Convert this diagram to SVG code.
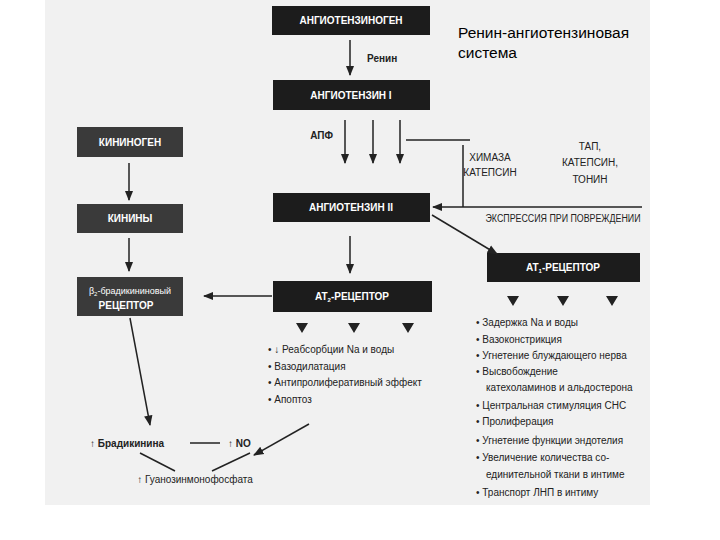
<svg xmlns="http://www.w3.org/2000/svg" width="720" height="540" viewBox="0 0 720 540">
<defs>
<marker id="ah" viewBox="0 0 10 10" refX="9" refY="5" markerWidth="7" markerHeight="7" orient="auto-start-reverse"><path d="M0,1 L10,5 L0,9 Z" fill="#222"/></marker>
<style>
.bx{fill:#1c1c1c}
.bg{fill:#3a3a3a}
.bt{fill:#fff;font-family:"Liberation Sans",Arial,sans-serif;font-weight:bold;font-size:10px;text-anchor:middle}
.t{fill:#222;font-family:"Liberation Sans Narrow","Liberation Sans",Arial,sans-serif;font-size:10px}
.tb{fill:#222;font-family:"Liberation Sans",Arial,sans-serif;font-size:10px;font-weight:bold}
.ln{stroke:#222;stroke-width:1.5;fill:none}
.tri{fill:#222}
</style>
</defs>
<rect width="720" height="540" fill="#fff"/>
<rect x="45" y="0" width="605" height="505" fill="#f1f1f1"/>
<text x="458" y="38" font-family="Liberation Sans,Arial,sans-serif" font-size="15.5" fill="#000">Ренин-ангиотензиновая</text>
<text x="458" y="58" font-family="Liberation Sans,Arial,sans-serif" font-size="15.5" fill="#000">система</text>

<g id="angiotensinogen"><rect class="bx" x="272" y="6" width="158" height="29"/><text class="bt" x="351" y="24">АНГИОТЕНЗИНОГЕН</text></g>
<g id="angiotensin1"><rect class="bx" x="273" y="80" width="157" height="30"/><text class="bt" x="351" y="99">АНГИОТЕНЗИН I</text></g>
<g id="angiotensin2"><rect class="bx" x="273" y="193" width="157" height="29"/><text class="bt" x="351" y="211">АНГИОТЕНЗИН II</text></g>
<g id="at1"><rect class="bx" x="487" y="253" width="153" height="29"/><text class="bt" x="563" y="271">AT<tspan font-size="6" dy="2">1</tspan><tspan dy="-2">-РЕЦЕПТОР</tspan></text></g>
<g id="at2"><rect class="bx" x="273" y="281" width="159" height="31"/><text class="bt" x="352" y="300">AT<tspan font-size="6" dy="2">2</tspan><tspan dy="-2">-РЕЦЕПТОР</tspan></text></g>
<g id="kininogen"><rect class="bg" x="77" y="127" width="106" height="30"/><text class="bt" x="130" y="146">КИНИНОГЕН</text></g>
<g id="kininy"><rect class="bg" x="77" y="204" width="106" height="29"/><text class="bt" x="130" y="222">КИНИНЫ</text></g>
<g id="b2"><rect class="bg" x="77" y="277" width="106" height="39"/><text x="130" y="294" fill="#fff" font-family="Liberation Sans Narrow,Liberation Sans,Arial,sans-serif" font-size="9" text-anchor="middle">β<tspan font-size="6" dy="2">2</tspan><tspan dy="-2">-брадикининовый</tspan></text><text class="bt" x="126" y="309">РЕЦЕПТОР</text></g>

<g id="labels">
<text class="tb" x="367" y="62" font-size="9">Ренин</text>
<text class="tb" x="333" y="139" text-anchor="end">АПФ</text>
<text class="t" x="490" y="161" text-anchor="middle" font-size="9">ХИМАЗА</text>
<text class="t" x="490" y="176" text-anchor="middle" font-size="9">КАТЕПСИН</text>
<text class="t" x="590" y="150" text-anchor="middle" font-size="9">ТАП,</text>
<text class="t" x="590" y="166" text-anchor="middle" font-size="9">КАТЕПСИН,</text>
<text class="t" x="590" y="183" text-anchor="middle" font-size="9">ТОНИН</text>
<text class="t" x="563" y="222" text-anchor="middle" font-size="8.5" textLength="155" lengthAdjust="spacingAndGlyphs">ЭКСПРЕССИЯ ПРИ ПОВРЕЖДЕНИИ</text>
</g>

<g id="at1-effects" class="t">
<text x="476" y="326">• Задержка Na и воды</text>
<text x="476" y="343">• Вазоконстрикция</text>
<text x="476" y="359">• Угнетение блуждающего нерва</text>
<text x="476" y="375">• Высвобождение</text>
<text x="486" y="391">катехоламинов и альдостерона</text>
<text x="476" y="409">• Центральная стимуляция СНС</text>
<text x="476" y="425">• Пролиферация</text>
<text x="476" y="444">• Угнетение функции эндотелия</text>
<text x="476" y="461">• Увеличение количества со-</text>
<text x="486" y="478">единительной ткани в интиме</text>
<text x="476" y="496">• Транспорт ЛНП в интиму</text>
</g>
<g id="at2-effects" class="t">
<text x="268" y="353">• ↓ Реабсорбции Na и воды</text>
<text x="268" y="370">• Вазодилатация</text>
<text x="268" y="386">• Антипролиферативный эффект</text>
<text x="268" y="403">• Апоптоз</text>
</g>
<g id="bradykinin"><text class="tb" x="90" y="447" font-size="11">↑ Брадикинина</text></g>
<g id="no"><text class="tb" x="228" y="447" font-size="11">↑ NO</text></g>
<g id="cgmp"><text class="t" x="195" y="483" text-anchor="middle" font-size="8">↑ Гуанозинмонофосфата</text></g>

<g id="connectors">
<line class="ln" x1="350" y1="40" x2="350" y2="75" marker-end="url(#ah)"/>
<line class="ln" x1="345" y1="120" x2="345" y2="163" marker-end="url(#ah)"/>
<line class="ln" x1="373" y1="120" x2="373" y2="163" marker-end="url(#ah)"/>
<line class="ln" x1="400" y1="120" x2="400" y2="163" marker-end="url(#ah)"/>
<line class="ln" x1="406" y1="140" x2="470" y2="140" stroke-width="2"/>
<line class="ln" x1="463" y1="145" x2="463" y2="207" stroke-width="1"/>
<line class="ln" x1="642" y1="207" x2="433" y2="207" marker-end="url(#ah)"/>
<line class="ln" x1="432" y1="215" x2="497" y2="254" marker-end="url(#ah)"/>
<line class="ln" x1="350" y1="236" x2="350" y2="273" marker-end="url(#ah)"/>
<line class="ln" x1="272" y1="296" x2="204" y2="296" marker-end="url(#ah)"/>
<line class="ln" x1="129" y1="163" x2="129" y2="200" marker-end="url(#ah)"/>
<line class="ln" x1="129" y1="238" x2="129" y2="271" marker-end="url(#ah)"/>
<line class="ln" x1="130" y1="318" x2="150" y2="425" marker-end="url(#ah)"/>
<line class="ln" x1="309" y1="424" x2="254" y2="455" marker-end="url(#ah)"/>
<line class="ln" x1="190" y1="443" x2="220" y2="443"/>
<line class="ln" x1="140" y1="453" x2="175" y2="471"/>
<line class="ln" x1="250" y1="453" x2="212" y2="471"/>
<path class="tri" d="M507,296 h12 l-6,10 z M557,296 h12 l-6,10 z M606,296 h12 l-6,10 z M296,323 h12 l-6,10 z M348,323 h12 l-6,10 z M402,323 h12 l-6,10 z"/>
</g>
</svg>
